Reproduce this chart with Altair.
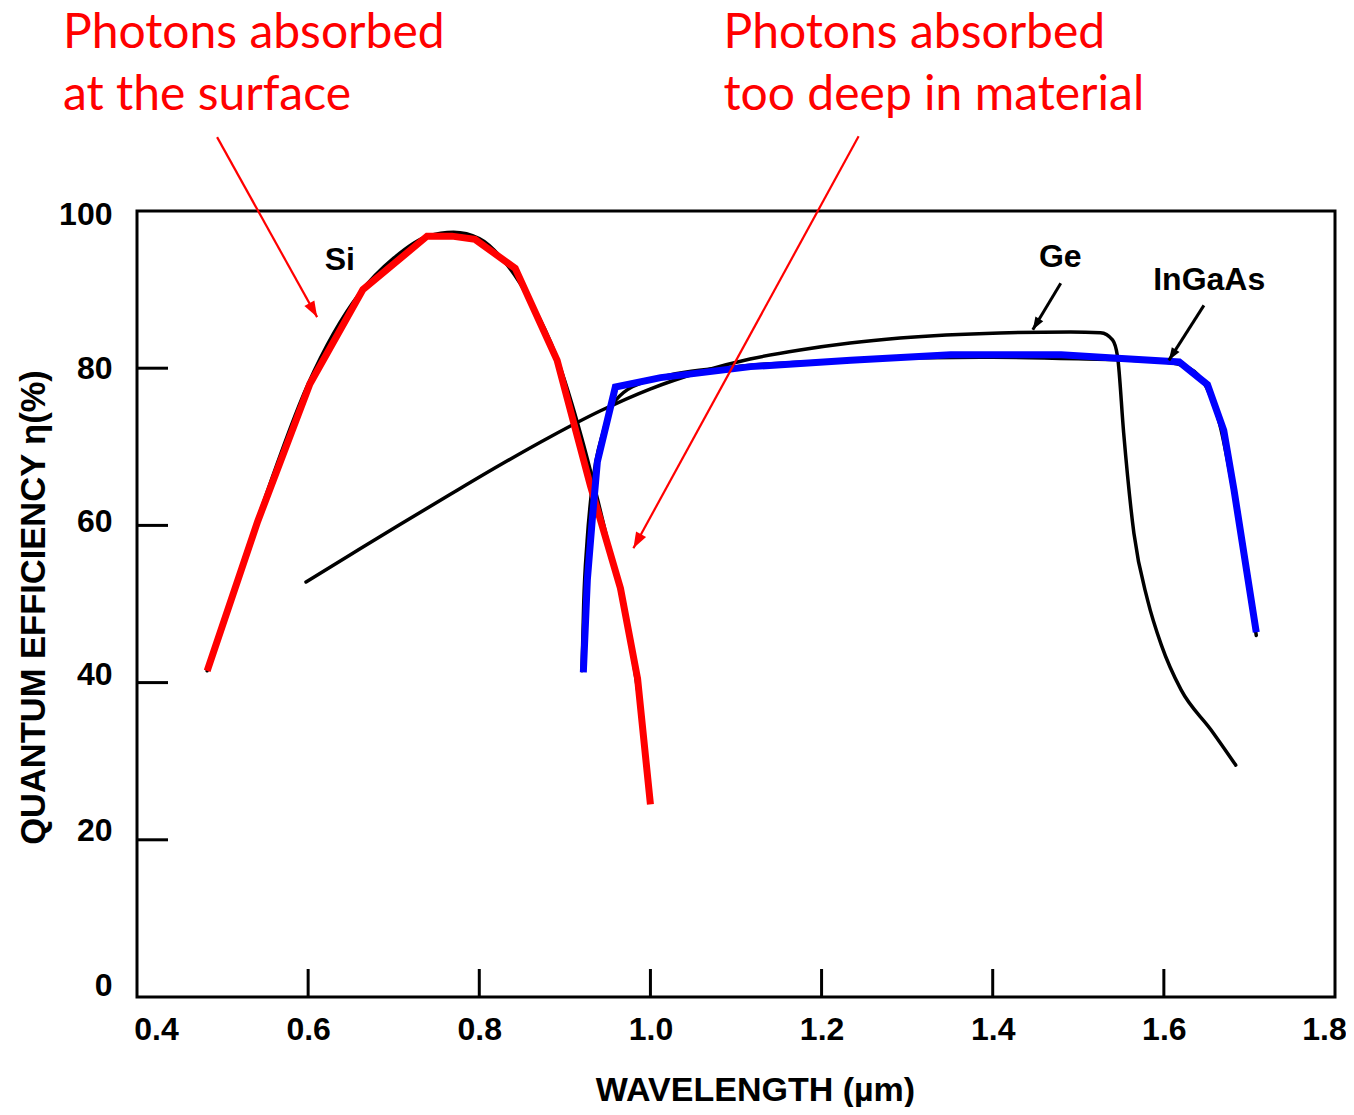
import math
import altair as alt
import pandas as pd

# ---------------- data ----------------
# Si, red overlay (polyline)
si_red_x = [0.482, 0.541, 0.602, 0.664, 0.739, 0.768, 0.795, 0.842, 0.891, 0.930, 0.965, 0.985, 1.000]
si_red_y = [41.5, 60.5, 78.0, 90.0, 96.8, 96.8, 96.4, 92.7, 81.0, 65.0, 52.0, 40.5, 24.5]

# Si, original black curve (mostly hidden)
si_blk_x = [0.482, 0.540, 0.600, 0.660, 0.700, 0.740, 0.770, 0.800, 0.830, 0.860, 0.890, 0.920, 0.950, 0.975, 0.990, 1.000]
si_blk_y = [41.5, 60.5, 78.0, 89.5, 94.0, 96.8, 97.3, 96.5, 93.5, 88.5, 81.5, 71.0, 58.0, 46.0, 35.0, 25.0]

# Ge, black curve
ge_x = [0.5975, 0.6489, 0.7073, 0.7658, 0.8242, 0.8826, 0.9411, 0.9995, 1.0580, 1.1164, 1.1748, 1.2333,
        1.2917, 1.4085, 1.491, 1.526, 1.540, 1.546, 1.553, 1.565, 1.581, 1.597, 1.620, 1.655, 1.684]
ge_y = [52.80, 56.23, 60.11, 63.93, 67.68, 71.25, 74.55, 77.35, 79.52, 81.17, 82.32, 83.21,
        83.84, 84.48, 84.6, 84.5, 83.6, 81.4, 71.8, 59.0, 50.5, 44.8, 39.1, 34.0, 29.5]

# InGaAs, blue overlay (polyline)
ing_blue_x = [0.9216, 0.9263, 0.932, 0.938, 0.959, 1.012, 1.117, 1.234, 1.351, 1.480, 1.541, 1.618, 1.651, 1.670, 1.682, 1.708]
ing_blue_y = [41.3, 53.1, 60.7, 68.1, 77.6, 78.8, 80.2, 81.0, 81.7, 81.7, 81.3, 80.8, 77.9, 72.1, 64.5, 46.4]

# InGaAs, original black curve (mostly hidden)
ing_blk_x = [0.920, 0.922, 0.926, 0.932, 0.945, 0.960, 1.000, 1.100, 1.200, 1.300, 1.400, 1.500, 1.600, 1.630, 1.650, 1.665, 1.680, 1.700, 1.708]
ing_blk_y = [41.5, 50.0, 58.0, 65.0, 72.0, 76.0, 78.5, 80.2, 80.9, 81.3, 81.4, 81.2, 80.8, 80.0, 77.5, 73.0, 65.0, 52.0, 46.0]

# axis ticks / labels
x_tick_labels = [0.4, 0.6, 0.8, 1.0, 1.2, 1.4, 1.6, 1.8]
x_inner_ticks = [0.6, 0.8, 1.0, 1.2, 1.4, 1.6]
y_tick_labels = [0, 20, 40, 60, 80, 100]
y_inner_ticks = [20, 40, 60, 80]

# curve labels
curve_label_text = ["Si", "Ge", "InGaAs"]
curve_label_x = [0.637, 1.479, 1.653]
curve_label_y = [93.8, 94.1, 91.2]

# black label arrows (start -> tip)
blk_arrow_x = [1.4795, 1.6468]
blk_arrow_y = [90.8, 88.0]
blk_arrow_x2 = [1.4468, 1.6058]
blk_arrow_y2 = [84.9, 81.0]

# red annotation arrows (start -> tip)
red_arrow_x = [0.4936, 1.2433]
red_arrow_y = [109.4, 109.5]
red_arrow_x2 = [0.6105, 0.9801]
red_arrow_y2 = [86.5, 57.1]

# red annotation text
note_text = ["Photons absorbed", "at the surface", "Photons absorbed", "too deep in material"]
note_x = [0.3135, 0.3135, 1.0854, 1.0854]
note_y = [120.7, 112.9, 120.7, 112.9]

# ---------------- layout ----------------
W, H = 1198, 786
XMIN, XMAX, YMIN, YMAX = 0.4, 1.8, 0, 100
PX_X = W / (XMAX - XMIN)
PX_Y = H / (YMAX - YMIN)

FONT = "Liberation Sans"

xs = alt.Scale(domain=[XMIN, XMAX], nice=False, zero=False)
ys = alt.Scale(domain=[YMIN, YMAX], nice=False, zero=False)

x_axis = alt.Axis(
    values=x_tick_labels, format=".1f", title="WAVELENGTH (µm)",
    ticks=False, tickSize=0, domain=False, grid=False,
    labelFont=FONT, labelFontSize=32, labelFontWeight="bold", labelColor="black",
    labelPadding=17, labelFlush=False, labelOverlap=False, labelBound=False,
    labelOffset={"condition": [
        {"test": "datum.value <= 0.41", "value": 19},
        {"test": "datum.value >= 1.79", "value": -11},
    ], "value": 0},
    titleFont=FONT, titleFontSize=34, titleFontWeight="bold", titleColor="black",
    titleX=618, titleY=93, titleBaseline="middle", titleAlign="center",
)
y_axis = alt.Axis(
    values=y_tick_labels, format="d", title="QUANTUM EFFICIENCY η(%)",
    ticks=False, tickSize=0, domain=False, grid=False,
    labelFont=FONT, labelFontSize=32, labelFontWeight="bold", labelColor="black",
    labelPadding=25, labelFlush=False, labelOverlap=False, labelBound=False,
    labelBaseline="middle",
    labelOffset={"condition": [
        {"test": "datum.value <= 0", "value": -12},
        {"test": "datum.value <= 20", "value": -9},
        {"test": "datum.value <= 40", "value": -8},
        {"test": "datum.value <= 60", "value": -4},
        {"test": "datum.value <= 80", "value": 0},
    ], "value": 3},
    titleFont=FONT, titleFontSize=34.5, titleFontWeight="bold", titleColor="black",
    titleX=-103, titleY=396, titleAngle=270, titleBaseline="middle", titleAlign="center",
)

def X(field="x"):
    return alt.X(f"{field}:Q", scale=xs, axis=x_axis)

def Y(field="y"):
    return alt.Y(f"{field}:Q", scale=ys, axis=y_axis)

# black curves
blk = pd.concat([
    pd.DataFrame({"x": ge_x, "y": ge_y, "s": "Ge"}),
    pd.DataFrame({"x": si_blk_x, "y": si_blk_y, "s": "Si"}),
    pd.DataFrame({"x": ing_blk_x, "y": ing_blk_y, "s": "InGaAs"}),
])
black_lines = alt.Chart(blk).mark_line(
    color="black", strokeWidth=3.5, interpolate="monotone", strokeCap="round"
).encode(x=X(), y=Y(), detail="s:N")

red_line = alt.Chart(pd.DataFrame({"x": si_red_x, "y": si_red_y})).mark_line(
    color="#ff0000", strokeWidth=7, strokeJoin="miter", strokeCap="butt"
).encode(x=X(), y=Y())

blue_line = alt.Chart(pd.DataFrame({"x": ing_blue_x, "y": ing_blue_y})).mark_line(
    color="#0000ff", strokeWidth=7, strokeJoin="miter", strokeCap="butt"
).encode(x=X(), y=Y())

# inward ticks
xt = alt.Chart(pd.DataFrame({"x": x_inner_ticks})).mark_rule(color="black", strokeWidth=3).encode(
    x=X(), y=alt.value(H), y2=alt.value(H - 28))
yt = alt.Chart(pd.DataFrame({"y": y_inner_ticks})).mark_rule(color="black", strokeWidth=3).encode(
    y=Y(), x=alt.value(0), x2=alt.value(31))

# curve labels
labels = alt.Chart(pd.DataFrame({"x": curve_label_x, "y": curve_label_y, "t": curve_label_text})).mark_text(
    font=FONT, fontSize=32, fontWeight="bold", color="black", align="center", baseline="middle"
).encode(x=X(), y=Y(), text="t:N")

# arrows
def arrow_df(x, y, x2, y2):
    df = pd.DataFrame({"x": x, "y": y, "x2": x2, "y2": y2})
    df["ang"] = [
        (math.degrees(math.atan2((b - a) * PX_X, (d - c) * PX_Y)) + 360) % 360
        for a, b, c, d in zip(x, x2, y, y2)
    ]
    return df

HEAD = "M0,0 L-0.5,1.4 L0.5,1.4 Z"

blk_df = arrow_df(blk_arrow_x, blk_arrow_y, blk_arrow_x2, blk_arrow_y2)
blk_shaft = alt.Chart(blk_df).mark_rule(color="black", strokeWidth=3).encode(
    x=X(), y=Y(), x2="x2:Q", y2="y2:Q")
blk_head = alt.Chart(blk_df).mark_point(
    shape=HEAD, filled=True, color="black", opacity=1, size=330
).encode(x=X("x2"), y=Y("y2"), angle=alt.Angle("ang:Q", scale=None))

red_df = arrow_df(red_arrow_x, red_arrow_y, red_arrow_x2, red_arrow_y2)
red_shaft = alt.Chart(red_df).mark_rule(color="#ff0000", strokeWidth=2.2).encode(
    x=X(), y=Y(), x2="x2:Q", y2="y2:Q")
red_head = alt.Chart(red_df).mark_point(
    shape=HEAD, filled=True, color="#ff0000", opacity=1, size=520
).encode(x=X("x2"), y=Y("y2"), angle=alt.Angle("ang:Q", scale=None))

notes = alt.Chart(pd.DataFrame({"x": note_x, "y": note_y, "t": note_text})).mark_text(
    font="Lato", fontSize=48, color="#ff0000", align="left", baseline="alphabetic"
).encode(x=X(), y=Y(), text="t:N")

chart = alt.layer(
    black_lines, red_line, blue_line, xt, yt, labels,
    blk_shaft, blk_head, red_shaft, red_head, notes,
).properties(
    width=W, height=H,
    autosize=alt.AutoSizeParams(type="none"),
    padding={"left": 129, "top": 203, "right": 11, "bottom": 110},
    background="white",
).configure_view(
    stroke="black", strokeWidth=3
)

chart.save("out.html", embed_options={"renderer": "svg", "actions": False})
